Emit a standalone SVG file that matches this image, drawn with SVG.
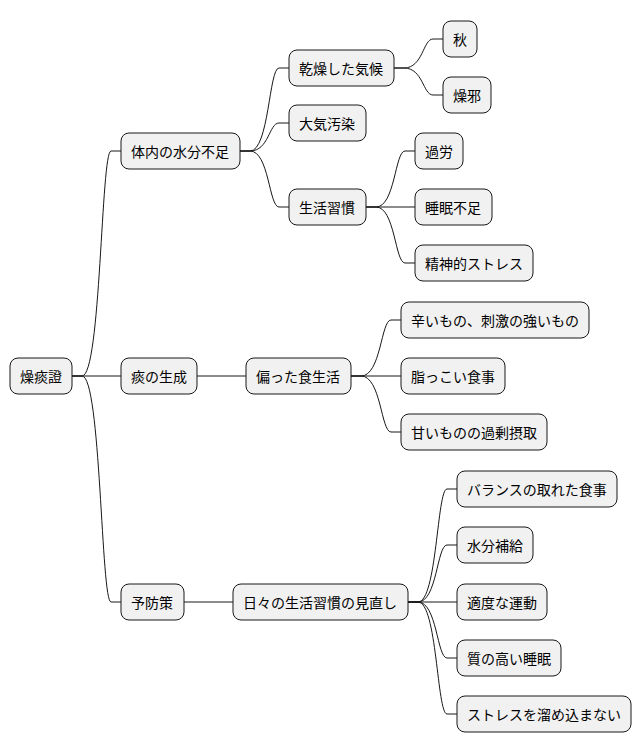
<svg xmlns="http://www.w3.org/2000/svg" width="642" height="752" viewBox="0 0 642 752">
<style>
.n rect{fill:#f1f1f1;stroke:#181818;stroke-width:1}
.n text{font-family:"Noto Sans CJK JP","Liberation Sans",sans-serif;font-size:14px;fill:#000;dominant-baseline:central}
#c path{fill:none;stroke:#181818;stroke-width:1}
</style>
<rect width="642" height="752" fill="#fff"/>
<g id="c">
<path d="M72 376 H82 C101 376 101 151 111 151 H121"/>
<path d="M72 376 H121"/>
<path d="M72 376 H82 C101 376 101 602 111 602 H121"/>
<path d="M240 151 H250 C269 151 269 68 279 68 H289"/>
<path d="M240 151 H250 C269 151 269 123 279 123 H289"/>
<path d="M240 151 H250 C269 151 269 207 279 207 H289"/>
<path d="M394 68 H404 C423 68 423 39 433 39 H443"/>
<path d="M394 68 H404 C423 68 423 95 433 95 H443"/>
<path d="M366 207 H376 C395 207 395 151 405 151 H415"/>
<path d="M366 207 H415"/>
<path d="M366 207 H376 C395 207 395 263 405 263 H415"/>
<path d="M197 376 H246"/>
<path d="M351 376 H361 C381 376 381 320 391 320 H401"/>
<path d="M351 376 H401"/>
<path d="M351 376 H361 C381 376 381 432 391 432 H401"/>
<path d="M184 602 H233"/>
<path d="M408 602 H418 C437 602 437 489 447 489 H457"/>
<path d="M408 602 H418 C437 602 437 545 447 545 H457"/>
<path d="M408 602 H457"/>
<path d="M408 602 H418 C437 602 437 658 447 658 H457"/>
<path d="M408 602 H418 C437 602 437 714 447 714 H457"/>
</g>
<g id="n0" class="n"><rect x="10" y="358" width="62" height="36" rx="8"/><text x="20" y="376">燥痰證</text></g>
<g id="n1" class="n"><rect x="121" y="133" width="119" height="36" rx="8"/><text x="131" y="151">体内の水分不足</text></g>
<g id="n2" class="n"><rect x="121" y="358" width="76" height="36" rx="8"/><text x="131" y="376">痰の生成</text></g>
<g id="n3" class="n"><rect x="121" y="584" width="63" height="36" rx="8"/><text x="131" y="602">予防策</text></g>
<g id="n4" class="n"><rect x="289" y="50" width="105" height="36" rx="8"/><text x="299" y="68">乾燥した気候</text></g>
<g id="n5" class="n"><rect x="289" y="105" width="77" height="36" rx="8"/><text x="299" y="123">大気汚染</text></g>
<g id="n6" class="n"><rect x="289" y="189" width="77" height="36" rx="8"/><text x="299" y="207">生活習慣</text></g>
<g id="n7" class="n"><rect x="443" y="21" width="34" height="36" rx="8"/><text x="453" y="39">秋</text></g>
<g id="n8" class="n"><rect x="443" y="77" width="48" height="36" rx="8"/><text x="453" y="95">燥邪</text></g>
<g id="n9" class="n"><rect x="415" y="133" width="48" height="36" rx="8"/><text x="425" y="151">過労</text></g>
<g id="n10" class="n"><rect x="415" y="189" width="77" height="36" rx="8"/><text x="425" y="207">睡眠不足</text></g>
<g id="n11" class="n"><rect x="415" y="245" width="118" height="36" rx="8"/><text x="425" y="263">精神的ストレス</text></g>
<g id="n12" class="n"><rect x="246" y="358" width="105" height="36" rx="8"/><text x="256" y="376">偏った食生活</text></g>
<g id="n13" class="n"><rect x="401" y="302" width="188" height="36" rx="8"/><text x="411" y="320">辛いもの、刺激の強いもの</text></g>
<g id="n14" class="n"><rect x="401" y="358" width="104" height="36" rx="8"/><text x="411" y="376">脂っこい食事</text></g>
<g id="n15" class="n"><rect x="401" y="414" width="146" height="36" rx="8"/><text x="411" y="432">甘いものの過剰摂取</text></g>
<g id="n16" class="n"><rect x="233" y="584" width="175" height="36" rx="8"/><text x="243" y="602">日々の生活習慣の見直し</text></g>
<g id="n17" class="n"><rect x="457" y="471" width="160" height="36" rx="8"/><text x="467" y="489">バランスの取れた食事</text></g>
<g id="n18" class="n"><rect x="457" y="527" width="76" height="36" rx="8"/><text x="467" y="545">水分補給</text></g>
<g id="n19" class="n"><rect x="457" y="584" width="90" height="36" rx="8"/><text x="467" y="602">適度な運動</text></g>
<g id="n20" class="n"><rect x="457" y="640" width="104" height="36" rx="8"/><text x="467" y="658">質の高い睡眠</text></g>
<g id="n21" class="n"><rect x="457" y="696" width="174" height="36" rx="8"/><text x="467" y="714">ストレスを溜め込まない</text></g>
</svg>
